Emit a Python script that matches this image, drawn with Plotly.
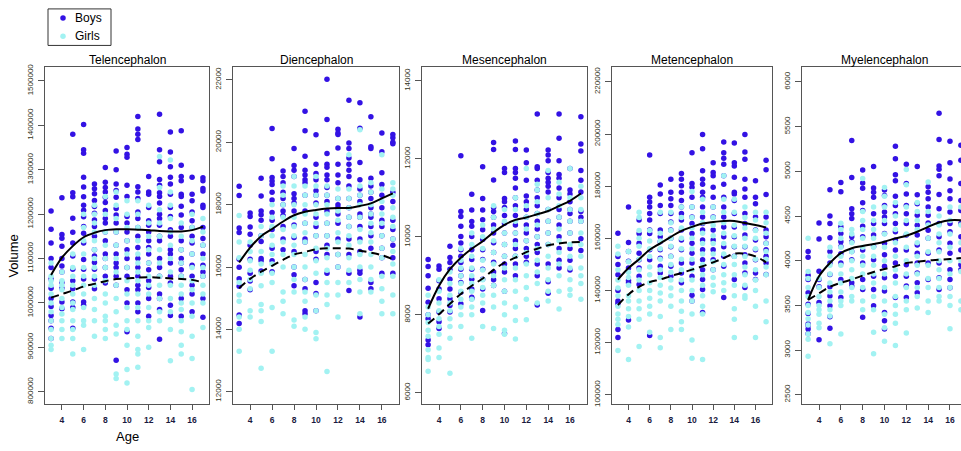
import plotly.graph_objects as go

AGES = [3, 4, 5, 6, 7, 8, 9, 10, 11, 12, 13, 14, 15, 16, 17]
REGIONS = ["Telencephalon", "Diencephalon", "Mesencephalon", "Metencephalon", "Myelencephalon"]
SERIES = ["Boys", "Girls"]

# ---------- Telencephalon (values in thousands) ----------
TEL_BOYS_K = [
    [1207, 1166, 1135, 1100, 1080, 1054, 1033, 1010, 992, 972, 960, 943, 920],
    [1237, 1154, 1146, 1128, 1100, 1083, 1070, 1046, 1033, 1002, 987],
    [1380, 1248, 1239, 1191, 1159, 1135, 1106, 1076, 1050, 1032, 1002, 990, 943],
    [1402, 1345, 1337, 1283, 1261, 1239, 1220, 1209, 1194, 1172, 1157, 1135, 1098, 1076, 1054, 1002, 995],
    [1268, 1257, 1246, 1231, 1217, 1202, 1187, 1172, 1150, 1120, 1106, 1091, 1076, 1054, 1032],
    [1305, 1272, 1260, 1250, 1238, 1226, 1208, 1190, 1180, 1160, 1140, 1110, 1100, 1080, 1060, 1045],
    [1342, 1300, 1268, 1253, 1238, 1213, 1198, 1180, 1160, 1130, 1110, 1090, 1080, 1060, 1040, 871],
    [1350, 1335, 1328, 1265, 1240, 1195, 1180, 1160, 1140, 1120, 1100, 1080, 1060, 1030, 1000, 935],
    [1420, 1392, 1380, 1368, 1262, 1250, 1235, 1205, 1190, 1170, 1150, 1125, 1100, 1080, 1060, 1040, 1030, 1000, 980],
    [1285, 1250, 1245, 1215, 1185, 1175, 1160, 1140, 1125, 1110, 1090, 1075, 1050, 1035, 1010, 970],
    [1425, 1345, 1318, 1278, 1265, 1248, 1240, 1225, 1200, 1190, 1175, 1150, 1140, 1100, 1080, 1060, 1020, 1010, 985, 918],
    [1385, 1340, 1307, 1283, 1268, 1245, 1215, 1195, 1165, 1150, 1120, 1110, 1090, 1060, 1045, 995, 972],
    [1388, 1310, 1285, 1275, 1245, 1240, 1218, 1198, 1170, 1140, 1120, 1100, 1090, 1075, 1060, 1010, 970],
    [1283, 1245, 1230, 1205, 1185, 1170, 1150, 1135, 1110, 1085, 1060, 1040, 1020, 980],
    [1282, 1275, 1258, 1252, 1220, 1215, 1170, 1145, 1130, 1110, 1085, 1070, 1060, 1010, 968],
]
TEL_GIRLS_K = [
    [1090, 1060, 1050, 1040, 1020, 1000, 980, 960, 940, 920, 905, 895],
    [1070, 1050, 1040, 1030, 1010, 990, 975, 960, 940, 920],
    [1110, 1080, 1060, 1040, 1020, 1000, 985, 960, 940, 920, 885],
    [1200, 1170, 1140, 1110, 1080, 1060, 1040, 1020, 990, 960, 950, 895],
    [1220, 1200, 1180, 1160, 1140, 1120, 1100, 1080, 1060, 1040, 1010, 985, 960, 925],
    [1240, 1200, 1160, 1130, 1100, 1080, 1050, 1020, 1000, 970, 960, 940, 920],
    [1250, 1220, 1190, 1160, 1130, 1100, 1070, 1040, 1010, 980, 950, 930, 840, 830],
    [1230, 1200, 1170, 1140, 1110, 1080, 1050, 1020, 990, 960, 940, 905, 850, 820],
    [1230, 1200, 1170, 1140, 1110, 1090, 1070, 1050, 1020, 990, 960, 925, 895, 885, 855],
    [1220, 1180, 1150, 1120, 1090, 1060, 1040, 1020, 990, 960, 945, 900],
    [1330, 1260, 1210, 1180, 1150, 1120, 1090, 1060, 1040, 1010, 980, 960],
    [1322, 1250, 1220, 1190, 1160, 1130, 1100, 1070, 1040, 1010, 980, 940, 870],
    [1180, 1150, 1120, 1090, 1060, 1040, 1020, 1000, 985, 960, 935, 905, 885],
    [1200, 1170, 1140, 1110, 1080, 1050, 1030, 1000, 970, 925, 875, 805],
    [1190, 1160, 1130, 1100, 1080, 1060, 1040, 1020, 1000, 945],
]
TEL_BOYS_FIT_K = [1063, 1102, 1128, 1148, 1158, 1164, 1166, 1166, 1165, 1164, 1162, 1161, 1161, 1164, 1172]
TEL_GIRLS_FIT_K = [1012, 1020, 1028, 1037, 1043, 1049, 1054, 1055, 1057, 1058, 1057, 1055, 1054, 1052, 1046]

# ---------- Diencephalon ----------
DIE_BOYS = [
    [18590, 18290, 17250, 17110, 16250, 15990, 15620, 15380, 14460, 14190],
    [17730, 17620, 17280, 17050, 16700, 16250, 15800, 15550, 15270],
    [18850, 18280, 17800, 17680, 17500, 17000, 16820, 16270, 16200, 15870],
    [20440, 19470, 18870, 18760, 18650, 18400, 18150, 17750, 17500, 17200, 16600, 16200, 15850],
    [19080, 18900, 18700, 18400, 18200, 18000, 17800, 17650, 17300, 16900, 16550],
    [19800, 19260, 19100, 18900, 18350, 18200, 18050, 17800, 17350, 16950, 16500, 16000, 15750, 15400],
    [21000, 20370, 19550, 19100, 18950, 18800, 18700, 18300, 17800, 17400, 16900, 16800, 15600, 15300, 14600, 14500],
    [20240, 19300, 19000, 18800, 18450, 18300, 18050, 17600, 17300, 17000, 16500, 16250, 15500, 15150, 14600],
    [22020, 20730, 19640, 19300, 19200, 18950, 18800, 18550, 18300, 18100, 17800, 17400, 17000, 16700, 16400, 15800],
    [20420, 20300, 20250, 19820, 19300, 18950, 18700, 18200, 18000, 17900, 17700, 17400, 16900, 16400, 16000],
    [21350, 19980, 19800, 19500, 19300, 19100, 18900, 18600, 18200, 17900, 17600, 17300, 16900, 16400, 15800, 15250],
    [21270, 20450, 19350, 18800, 18500, 18300, 18100, 17700, 17600, 17300, 16900, 16500, 15900, 15800, 14400],
    [20820, 19860, 19800, 18850, 18600, 18400, 18200, 17900, 17700, 17600, 17300, 17000, 16600, 15500, 15300],
    [20300, 19700, 19020, 18650, 18300, 17900, 17500, 17300, 17000, 16600, 16300, 15800],
    [20250, 20150, 20000, 19950, 18400, 18100, 17500, 17200, 16900, 16700, 16300, 15800],
]
DIE_GIRLS = [
    [17650, 16800, 16300, 15500, 15100, 14900, 14400, 14000, 13300],
    [16800, 16500, 16200, 15900, 15600, 15300, 14600, 14400],
    [17300, 17000, 16500, 16100, 15800, 15400, 14800, 14600, 14250, 12750],
    [18000, 17600, 17300, 17000, 16700, 16400, 16100, 15800, 15500, 14700, 13300],
    [18600, 18300, 18000, 17600, 17200, 16800, 16400, 16000, 15200, 14900, 14500],
    [18900, 18600, 18000, 17600, 17300, 17000, 16700, 16400, 16000, 15600, 15200, 14300, 14100],
    [18600, 18300, 18000, 17700, 17400, 17100, 16800, 16400, 16000, 15600, 15200, 14900, 14400, 14000],
    [18900, 18600, 18300, 18000, 17700, 17400, 17000, 16600, 16200, 15800, 15100, 14600, 13900, 13700],
    [18600, 18300, 18000, 17700, 17400, 17000, 16600, 16300, 15900, 15500, 15100, 14800, 12650],
    [18500, 18200, 17800, 17500, 17100, 16800, 16400, 16000, 15500, 15100, 14400],
    [19600, 18500, 18200, 17900, 17600, 17300, 17000, 16700, 16300, 15900, 15500],
    [20400, 18600, 18300, 18000, 17600, 17200, 16800, 16400, 16000, 15600, 15200, 14500],
    [18700, 18400, 18000, 17700, 17400, 17100, 16800, 16400, 16000, 15600, 15200],
    [19600, 18500, 18100, 17700, 17400, 17000, 16600, 16300, 15700, 15300, 14900, 14500],
    [18700, 18500, 18300, 17900, 17600, 17300, 16900, 16500, 16100, 15700, 15100, 14500],
]
DIE_BOYS_FIT = [16145, 16620, 16990, 17220, 17460, 17660, 17770, 17830, 17875, 17895, 17895, 17960, 18040, 18200, 18360]
DIE_GIRLS_FIT = [15322, 15620, 15850, 16040, 16230, 16400, 16480, 16570, 16600, 16600, 16590, 16525, 16460, 16380, 16250]

# ---------- Mesencephalon ----------
MES_BOYS = [
    [9420, 9240, 9000, 8680, 8320, 8000, 7900, 7350, 7230],
    [9250, 9170, 8870, 8660, 8410, 8070, 7820, 7650],
    [9760, 9470, 9340, 9170, 8910, 8660, 8410, 8240, 8070],
    [12080, 10650, 10520, 10270, 10010, 9840, 9670, 9500, 9340, 9170, 9000, 8830, 8580, 8280],
    [11090, 10690, 10390, 10270, 10010, 9670, 9420, 9170, 8910, 8660, 8450, 8410],
    [11800, 10980, 10690, 10440, 10180, 9930, 9670, 9420, 9170, 8910, 8660, 8110],
    [12420, 12240, 11460, 10750, 10650, 10500, 10300, 10100, 9850, 9600, 9350, 9100, 8900, 8750],
    [11750, 11650, 10980, 10900, 10750, 10550, 10350, 10100, 9800, 9500, 9300, 9100, 8600, 7520],
    [12460, 12240, 11750, 11650, 11500, 11250, 11000, 10800, 10550, 10300, 10100, 9900, 9700, 9500, 9300, 9000],
    [12230, 11900, 11450, 11050, 10900, 10700, 10500, 10300, 10100, 9900, 9700, 9500, 9350],
    [13150, 11800, 11750, 11450, 11200, 11000, 10800, 10600, 10400, 10200, 10000, 9800, 9600, 9300, 9000, 8250],
    [12230, 12100, 11950, 11650, 11500, 11400, 11300, 11150, 10700, 10400, 10100, 9800, 9300, 8850, 8550],
    [13150, 12530, 11950, 11600, 11500, 11250, 11000, 10700, 10500, 10300, 10000, 9700, 9400, 9200],
    [11750, 11200, 11100, 10900, 10700, 10600, 10400, 10100, 9700, 9400, 9150],
    [13080, 12380, 12200, 11700, 11450, 11150, 10650, 10500, 10400, 9950, 9650],
]
MES_GIRLS = [
    [8500, 8200, 8000, 7800, 7600, 7450, 7100, 6900, 6850, 6550],
    [8900, 8600, 8300, 8100, 7900, 7700, 7500, 7150, 6900],
    [9100, 8800, 8500, 8300, 8100, 7900, 7700, 7400, 6500],
    [9700, 9400, 9200, 9000, 8800, 8600, 8400, 8200, 8000, 7700],
    [10100, 9800, 9500, 9200, 9000, 8800, 8600, 8400, 8200, 8000, 7400],
    [10300, 10000, 9700, 9400, 9150, 8900, 8700, 8500, 8300, 7700],
    [10800, 10500, 10200, 9900, 9600, 9300, 9000, 8750, 8500, 8200, 7650],
    [10700, 10400, 10100, 9800, 9500, 9200, 8900, 8600, 8300, 8000, 7600, 7500],
    [11000, 10700, 10400, 10100, 9800, 9500, 9200, 8900, 8600, 8200, 7850, 7380],
    [11750, 10800, 10500, 10200, 9900, 9600, 9300, 9000, 8700, 8400, 7870],
    [11350, 11200, 10900, 10600, 10300, 10000, 9700, 9400, 9100, 8800, 8300],
    [11700, 11000, 10700, 10400, 10100, 9800, 9500, 9200, 8900, 8600, 8350],
    [11400, 11100, 10800, 10500, 10200, 9900, 9600, 9300, 9000, 8600, 8150],
    [11750, 11000, 10700, 10400, 10100, 9800, 9500, 9200, 8900, 8650, 8500],
    [11300, 11000, 10700, 10400, 10100, 9800, 9500, 9200, 9000, 8800, 8400],
]
MES_BOYS_FIT = [8154, 8745, 9168, 9464, 9692, 9886, 10114, 10308, 10435, 10494, 10579, 10663, 10790, 10925, 11111]
MES_GIRLS_FIT = [7774, 8010, 8281, 8534, 8745, 8931, 9151, 9337, 9464, 9607, 9692, 9784, 9827, 9860, 9869]

# ---------- Metencephalon (values in thousands) ----------
MET_BOYS_K = [
    [162, 153, 150, 146, 140, 136, 135, 125, 122],
    [172, 158.4, 155, 151.2, 148.6, 143.8, 143, 128.7],
    [167, 161.9, 158.1, 154.3, 151.8, 148.6, 145.5, 142.3],
    [192, 175.8, 173.9, 172, 169.5, 167, 163.2, 161.9, 155.6, 151.8, 122.7],
    [180.5, 177, 172.6, 169.5, 163.2, 160.6, 158.7, 155.6, 152.4, 149.3, 146.7],
    [182.7, 177.7, 175.2, 172.6, 169.5, 166.3, 163.2, 160, 156.8, 153.1, 149.3, 145.5],
    [184.9, 182.7, 180.2, 177.7, 174.5, 172, 169.5, 167, 163.2, 159.4, 155.6, 150.5, 146.7, 143],
    [192.8, 181, 179.6, 175.8, 172, 168.2, 165.7, 161.9, 158.1, 154.3, 150.5, 145.5, 138.2, 136],
    [199.8, 194.4, 185.9, 182.7, 180.8, 177.7, 175.8, 172, 168.2, 165.7, 163.2, 159.4, 155.6, 151.8, 148, 144.2, 140.4, 131.6],
    [189, 185.3, 184, 179.6, 175.8, 172, 168.2, 163.2, 159.4, 155.6, 151.8, 148],
    [197, 192.8, 190.7, 188.4, 184, 180.8, 175.8, 172, 168.2, 164.4, 160.6, 156.8, 153.1, 149.3, 137.3],
    [196.6, 189, 187.8, 183.4, 177.7, 177, 174.5, 169.5, 164.4, 160.6, 156.8, 153.1, 144.2],
    [199.8, 193.1, 190.3, 182.7, 178.9, 175.8, 169.5, 165.7, 161.3, 156.8, 153.7, 150.5, 146.7, 141.1],
    [182.1, 175.8, 173.3, 168.2, 163.2, 159.4, 155.6, 151.8, 146.7, 144.2],
    [190, 186.3, 176.8, 168.2, 163.2, 160.6, 158.1, 155.6, 153.1, 150.5, 146.1],
]
MET_GIRLS_K = [
    [157, 154, 148, 144, 141, 138, 134, 131, 129, 127, 117],
    [155, 151, 147, 145, 142, 138, 136, 133, 130, 126, 113.5],
    [170, 168, 163, 160, 157, 152, 148, 144, 140, 136, 133, 129, 118.5],
    [163, 159, 156, 153, 149, 146, 143, 140, 137, 134, 131, 124],
    [170, 162, 159, 156, 152, 148, 145, 142, 139, 136, 130, 122, 118],
    [170, 166, 163, 160, 157, 153, 150, 147, 144, 141, 138, 134, 125],
    [172, 168, 164, 160, 156, 152, 148, 144, 140, 136, 132, 128, 125],
    [178, 172, 168, 164, 160, 156, 152, 148, 144, 140, 136, 131, 121, 114],
    [175, 170, 166, 162, 158, 154, 150, 146, 142, 138, 134, 131, 113.5],
    [172, 168, 165, 161, 158, 154, 151, 148, 145, 142, 139.5],
    [184, 175, 170, 166, 162, 158, 154, 150, 146, 143, 140],
    [175, 170, 165, 161, 157, 153, 150, 146, 142, 138, 133, 129, 122],
    [172, 168, 164, 160, 157, 153, 149, 146, 142, 138, 137],
    [170, 167, 163, 160, 156, 152, 148, 144, 140, 134, 122],
    [170, 166, 162, 158, 155, 152, 149, 146, 136, 128],
]
MET_BOYS_FIT_K = [144.2, 148.6, 152, 155.6, 158.1, 160.6, 162.9, 164.4, 165.7, 166.3, 166.7, 166.7, 165.9, 165.1, 164.2]
MET_GIRLS_FIT_K = [134.4, 138.5, 141.4, 143.2, 144.2, 145.5, 146.7, 148, 149.3, 150.8, 152.4, 154.1, 154.1, 153.1, 150.8]

# ---------- Myelencephalon ----------
MYE_BOYS = [
    [4103, 4040, 3837, 3789, 3642, 3513, 3410, 3292, 3274, 3237, 3182],
    [4423, 4243, 3882, 3789, 3708, 3532, 3115],
    [4795, 4501, 4416, 4257, 4103, 3974, 3845, 3708, 3605, 3495, 3373, 3244],
    [4876, 4773, 4379, 4305, 4213, 4158, 4077, 3974, 3789, 3587],
    [5344, 4932, 4582, 4526, 4471, 4268, 4213, 4103, 4011, 3753, 3716],
    [5016, 4869, 4810, 4648, 4563, 4386, 4268, 4121, 3974, 3789, 3679, 3366],
    [5053, 4814, 4766, 4711, 4526, 4416, 4287, 4158, 4011, 3826, 3679, 3495],
    [4792, 4729, 4618, 4545, 4489, 4416, 4305, 4195, 4066, 3937, 3808, 3661, 3421, 3329, 3237],
    [5282, 5142, 4961, 4895, 4722, 4618, 4526, 4416, 4324, 4232, 4121, 3974, 3826, 3587],
    [5079, 4865, 4747, 4618, 4526, 4416, 4287, 4121, 3955, 3826, 3716, 3587],
    [5053, 4737, 4637, 4508, 4397, 4287, 4176, 4084, 3974, 3863, 3753, 3642],
    [4828, 4766, 4692, 4600, 4508, 4423, 4342, 4250, 4084, 3974, 3789],
    [5650, 5355, 5060, 5024, 4950, 4740, 4582, 4416, 4268, 4121, 3974, 3808, 3679],
    [5337, 5097, 4913, 4784, 4692, 4545, 4416, 4324, 4195, 4084, 3900, 3789, 3698],
    [5293, 5123, 4865, 4674, 4563, 4416, 4268, 4121, 3955, 3900],
]
MYE_GIRLS = [
    [4250, 3880, 3800, 3700, 3600, 3500, 3420, 3350, 3280, 3180, 3120, 2930],
    [3800, 3700, 3600, 3500, 3450, 3400, 3300, 3250],
    [4150, 4050, 3950, 3850, 3750, 3650, 3550, 3450, 3380, 3070],
    [4420, 4350, 4250, 4150, 4050, 3950, 3850, 3750, 3650, 3550, 3500, 3180],
    [4350, 4300, 4200, 4100, 4000, 3900, 3800, 3700, 3600, 3550],
    [4920, 4550, 4450, 4350, 4250, 4150, 4050, 3950, 3850, 3700, 3550, 3450],
    [4600, 4450, 4350, 4250, 4150, 4050, 3950, 3850, 3750, 3600, 3450, 3200, 2960],
    [4820, 4720, 4600, 4450, 4300, 4150, 4000, 3850, 3700, 3550, 3400, 3250, 3100],
    [4650, 4500, 4350, 4200, 4050, 3900, 3750, 3600, 3500, 3400, 3300, 3050],
    [5020, 4850, 4600, 4450, 4300, 4150, 4000, 3850, 3700, 3550, 3450, 3190],
    [4650, 4550, 4450, 4350, 4200, 4050, 3950, 3850, 3700, 3600, 3470],
    [4880, 4550, 4400, 4250, 4100, 3950, 3800, 3700, 3550, 3420],
    [4500, 4400, 4300, 4200, 4100, 4000, 3900, 3800, 3700, 3600, 3550],
    [4600, 4450, 4300, 4150, 4000, 3850, 3700, 3600, 3500, 3240],
    [4600, 4400, 4200, 4000, 3880, 3550, 3450],
]
MYE_BOYS_FIT = [3561, 3826, 3974, 4084, 4140, 4165, 4187, 4213, 4250, 4280, 4324, 4379, 4427, 4453, 4453]
MYE_GIRLS_FIT = [3561, 3635, 3708, 3753, 3789, 3834, 3874, 3907, 3937, 3974, 3988, 4003, 4010, 4018, 4029]

# tick values
X_TICKS = [4, 6, 8, 10, 12, 14, 16]
Y_TICKS = [
    [800000, 900000, 1000000, 1100000, 1200000, 1300000, 1400000, 1500000],
    [12000, 14000, 16000, 18000, 20000, 22000],
    [6000, 8000, 10000, 12000, 14000],
    [100000, 120000, 140000, 160000, 180000, 200000, 220000],
    [2500, 3000, 3500, 4000, 4500, 5000, 5500, 6000],
]


def thousands(groups):
    return [[v * 1000 for v in g] for g in groups]


panels = [
    (thousands(TEL_BOYS_K), thousands(TEL_GIRLS_K),
     [v * 1000 for v in TEL_BOYS_FIT_K], [v * 1000 for v in TEL_GIRLS_FIT_K]),
    (DIE_BOYS, DIE_GIRLS, DIE_BOYS_FIT, DIE_GIRLS_FIT),
    (MES_BOYS, MES_GIRLS, MES_BOYS_FIT, MES_GIRLS_FIT),
    (thousands(MET_BOYS_K), thousands(MET_GIRLS_K),
     [v * 1000 for v in MET_BOYS_FIT_K], [v * 1000 for v in MET_GIRLS_FIT_K]),
    (MYE_BOYS, MYE_GIRLS, MYE_BOYS_FIT, MYE_GIRLS_FIT),
]

# ---------- layout geometry (pixels) ----------
W, H = 961, 451
LEFTS = [45, 233, 422, 612, 802]
RIGHTS = [209, 399, 587, 772, 967]
TOP, BOTTOM = 65, 406
Y_RANGES = [
    [773333, 1531111],
    [11619, 22411],
    [5720, 14354],
    [96609, 225678],
    [2401, 6166],
]
X_LO, X_HI = 2.44, 17.56
LEG_L, LEG_R, LEG_T, LEG_B = 48, 111, 6, 43

BOY_COLOR = "#3312E4"
GIRL_COLOR = "#A2F2F2"
COLORS = [BOY_COLOR, GIRL_COLOR]
FRAME = "#555555"
FONT = "Liberation Sans, Arial, sans-serif"

fig = go.Figure()


def flatten(groups):
    xs, ys = [], []
    for age, vals in zip(AGES, groups):
        for v in vals:
            xs.append(age)
            ys.append(v)
    return xs, ys


for i, (boys, girls, bfit, gfit) in enumerate(panels):
    n = "" if i == 0 else str(i + 1)
    xa, ya = "x" + n, "y" + n
    bx, by = flatten(boys)
    gx, gy = flatten(girls)
    fig.add_trace(go.Scatter(x=bx, y=by, mode="markers", xaxis=xa, yaxis=ya,
                             marker=dict(color=BOY_COLOR, size=5.5), name=SERIES[0],
                             showlegend=False))
    fig.add_trace(go.Scatter(x=gx, y=gy, mode="markers", xaxis=xa, yaxis=ya,
                             marker=dict(color=GIRL_COLOR, size=5.5), name=SERIES[1],
                             showlegend=False))
    fig.add_trace(go.Scatter(x=AGES, y=bfit, mode="lines", xaxis=xa, yaxis=ya,
                             line=dict(color="black", width=2, shape="spline"),
                             showlegend=False, hoverinfo="skip"))
    fig.add_trace(go.Scatter(x=AGES, y=gfit, mode="lines", xaxis=xa, yaxis=ya,
                             line=dict(color="black", width=2, shape="spline", dash="8px,5px"),
                             showlegend=False, hoverinfo="skip"))

# legend keys: one marker per series on a small categorical axis
fig.add_trace(go.Scatter(x=["key"] * len(SERIES), y=SERIES, mode="markers",
                         xaxis="x6", yaxis="y6", showlegend=False, hoverinfo="skip",
                         marker=dict(color=COLORS, size=5.5)))

layout = dict(
    width=W, height=H,
    margin=dict(l=0, r=0, t=0, b=0),
    paper_bgcolor="white", plot_bgcolor="white",
    font=dict(family=FONT, color="black"),
    showlegend=False,
)

annotations = []
for i in range(5):
    n = "" if i == 0 else str(i + 1)
    left = LEFTS[i] / W
    right = min(RIGHTS[i], W) / W
    if i == 4:
        px_per_unit = (RIGHTS[i] - LEFTS[i]) / (X_HI - X_LO)
        xr = [X_LO, X_LO + (W - LEFTS[i]) / px_per_unit]
    else:
        xr = [X_LO, X_HI]
    layout["xaxis" + n] = dict(
        domain=[left, right], range=xr, anchor="y" + n,
        showline=True, mirror=True, linecolor=FRAME, linewidth=1,
        ticks="outside", ticklen=5, tickcolor=FRAME, tickwidth=1,
        tickvals=X_TICKS, showgrid=False, zeroline=False,
        tickfont=dict(size=8.5, color="#1a1a40", family=FONT, weight="bold"),
        ticklabelstandoff=3,
    )
    layout["yaxis" + n] = dict(
        domain=[1 - BOTTOM / H, 1 - TOP / H], range=Y_RANGES[i], anchor="x" + n,
        showline=True, mirror=(i != 4), linecolor=FRAME, linewidth=1,
        ticks="outside", ticklen=6, tickcolor=FRAME, tickwidth=1,
        tickvals=Y_TICKS[i], tickformat="d", tickangle=-90,
        showgrid=False, zeroline=False,
        tickfont=dict(size=8, color="#333322", family=FONT),
        ticklabelstandoff=2,
    )
    annotations.append(dict(
        text=REGIONS[i], x=(LEFTS[i] + RIGHTS[i]) / 2 / W, y=1 - 58 / H,
        xref="paper", yref="paper", xanchor="center", yanchor="middle",
        showarrow=False, font=dict(size=12, family=FONT, color="black")))

# legend axis
key_frac = 15 / (LEG_R - LEG_L)
layout["xaxis6"] = dict(domain=[LEG_L / W, LEG_R / W], anchor="y6", visible=False,
                        type="category", range=[-key_frac, 1 - key_frac], fixedrange=True)
layout["yaxis6"] = dict(domain=[1 - LEG_B / H, 1 - LEG_T / H], anchor="x6", visible=False,
                        type="category", categoryorder="array",
                        categoryarray=SERIES[::-1], range=[-0.5, 1.5], fixedrange=True)
for s in SERIES:
    annotations.append(dict(text=s, x="key", y=s, xref="x6", yref="y6",
                            xanchor="left", yanchor="middle", xshift=10,
                            showarrow=False, font=dict(size=12, family=FONT, color="black")))

annotations.append(dict(text="Age", x=(LEFTS[0] + RIGHTS[0]) / 2 / W, y=1 - 439 / H,
                        xref="paper", yref="paper", xanchor="center", yanchor="middle",
                        showarrow=False, font=dict(size=13, family=FONT, color="black")))
annotations.append(dict(text="Volume", x=14 / W, y=1 - 257 / H, textangle=-90,
                        xref="paper", yref="paper", xanchor="center", yanchor="middle",
                        showarrow=False, font=dict(size=13, family=FONT, color="black")))
layout["annotations"] = annotations
layout["shapes"] = [dict(type="rect", xref="paper", yref="paper",
                         x0=LEG_L / W, x1=LEG_R / W, y0=1 - LEG_B / H, y1=1 - LEG_T / H,
                         line=dict(color="#333", width=1), fillcolor="rgba(0,0,0,0)")]

fig.update_layout(**layout)
fig.write_html(
    "out.html",
    config={"displayModeBar": False},
    post_script="document.body.style.margin='0';document.body.style.padding='0';"
                "document.body.style.overflow='hidden';",
)
